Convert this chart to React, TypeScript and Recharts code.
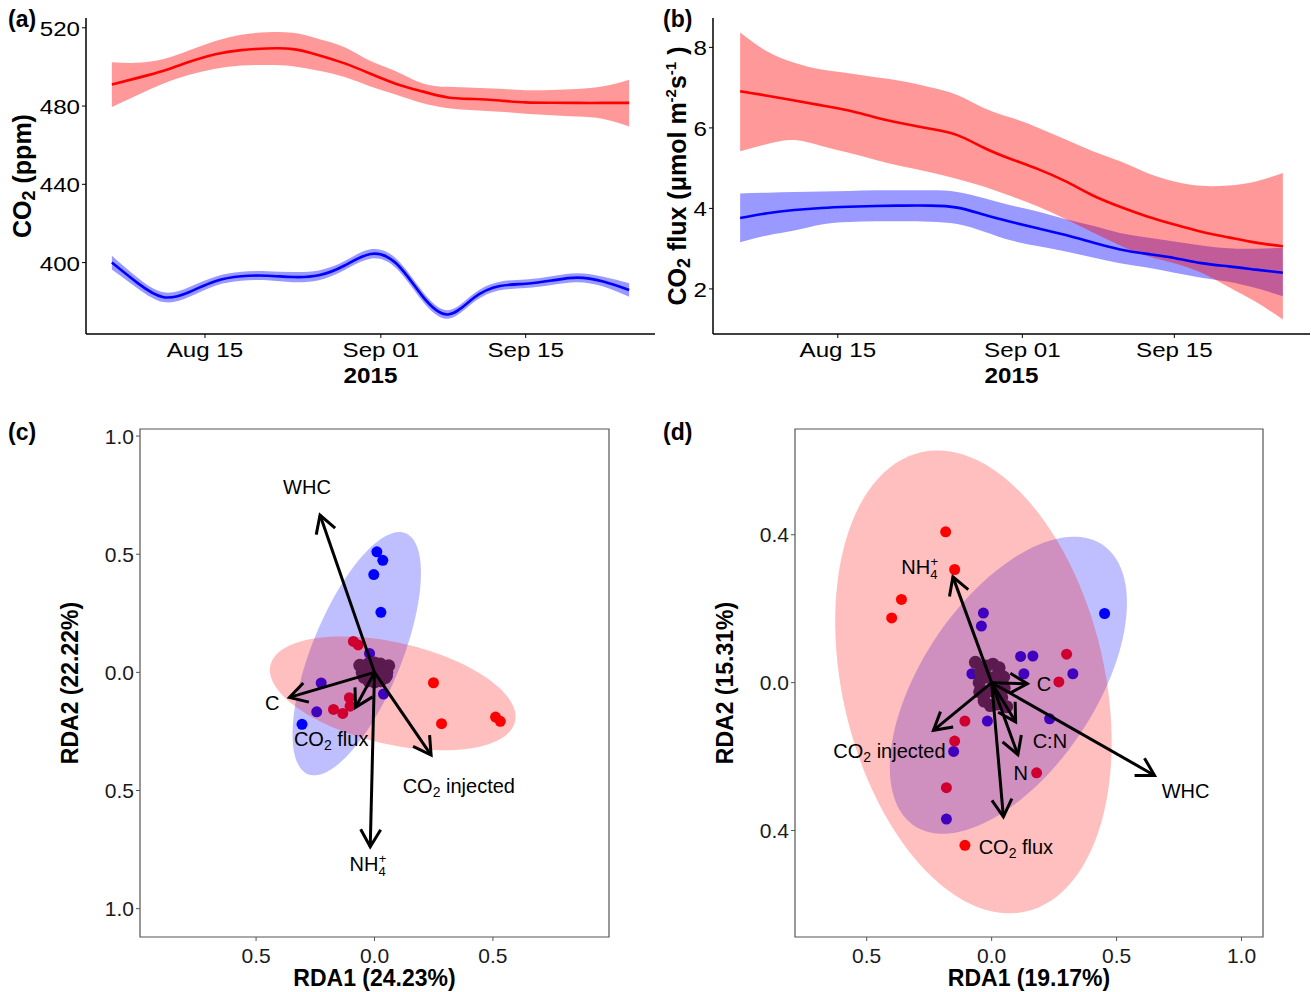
import React from 'react';
import {
  ComposedChart,
  ScatterChart,
  Area,
  Line,
  Scatter,
  XAxis,
  YAxis,
  Label,
  ReferenceArea,
} from 'recharts';

const FONT = '"Liberation Sans", Arial, Helvetica, sans-serif';

// ---- panels (a) and (b): smoothed time series, days counted from Aug 1 2015
const days = [5, 7.5, 10, 12.5, 15, 17.5, 20, 22.5, 25, 27.5, 30, 32.5, 35, 37.5, 40, 42.5, 45, 47.5, 50, 52.5, 55];
const dateTicks = [14, 31, 45];
const dateTickLabels = ['Aug 15', 'Sep 01', 'Sep 15'];

const co2RedMean = [491, 494.4, 498, 502.6, 506.5, 508.6, 509.4, 509.1, 506, 501.8, 496.5, 491.3, 487.5, 484.4, 483.6, 482.8, 481.9, 481.7, 481.6, 481.6, 481.6];
const co2RedLow = [479.5, 485.6, 491.5, 496, 499.1, 500.7, 501, 500.4, 498, 494.8, 490, 485.8, 481.5, 478.9, 477.9, 477.1, 476.1, 475.3, 474.6, 473.4, 469.6];
const co2RedHigh = [502.4, 502.1, 504, 508.5, 513.2, 516.5, 517.7, 517.4, 514.3, 510, 503, 497.7, 491.7, 489.8, 489.4, 488.8, 488.1, 488.2, 488.7, 490.1, 493.5];
const co2BlueMean = [400, 389.5, 382.3, 385, 390.5, 393, 393.3, 392.6, 393.5, 398.5, 404.4, 399.5, 383, 373.5, 382, 388, 389.2, 390.8, 392.3, 390.3, 386];
const co2BlueLow = [396.5, 386.8, 379.8, 382.5, 388.2, 390.7, 391, 390, 391, 396.2, 402, 397, 380.5, 371.3, 379.8, 385.8, 387, 388.6, 390, 387.8, 382.5];
const co2BlueHigh = [403.5, 392.2, 384.8, 387.5, 392.8, 395.3, 395.6, 395.2, 396, 400.8, 406.8, 402, 385.5, 375.7, 384.2, 390.2, 391.4, 393, 394.6, 392.8, 389.5];
const co2Ticks = [400, 440, 480, 520];

const fluxRedMean = [6.91, 6.8, 6.68, 6.56, 6.43, 6.26, 6.11, 5.98, 5.82, 5.5, 5.22, 4.97, 4.67, 4.32, 4.04, 3.8, 3.6, 3.42, 3.28, 3.15, 3.06];
const fluxRedLow = [5.42, 5.6, 5.7, 5.55, 5.38, 5.2, 5.04, 4.9, 4.73, 4.54, 4.3, 4.04, 3.73, 3.4, 3.08, 2.82, 2.64, 2.4, 2.05, 1.68, 1.24];
const fluxRedHigh = [8.37, 7.9, 7.62, 7.45, 7.36, 7.26, 7.16, 7.01, 6.82, 6.49, 6.25, 6.0, 5.71, 5.42, 5.17, 4.88, 4.67, 4.56, 4.57, 4.67, 4.88];
const fluxBlueMean = [3.76, 3.88, 3.96, 4.01, 4.04, 4.06, 4.07, 4.07, 4.02, 3.84, 3.66, 3.5, 3.34, 3.15, 2.98, 2.87, 2.77, 2.64, 2.56, 2.48, 2.4];
const fluxBlueLow = [3.16, 3.33, 3.45, 3.6, 3.66, 3.68, 3.68, 3.67, 3.61, 3.42, 3.2, 3.06, 2.93, 2.78, 2.64, 2.53, 2.4, 2.28, 2.18, 2.02, 1.82];
const fluxBlueHigh = [4.37, 4.39, 4.41, 4.42, 4.43, 4.45, 4.45, 4.45, 4.41, 4.25, 4.07, 3.92, 3.73, 3.57, 3.39, 3.28, 3.18, 3.08, 3.01, 3.0, 3.02];
const fluxTicks = [2, 4, 6, 8];

// ---- panels (c) and (d): RDA ordinations
const rdaCBlue = [
  { x: 0.01, y: 0.51 }, { x: 0.035, y: 0.474 }, { x: -0.003, y: 0.414 }, { x: 0.027, y: 0.254 },
  { x: -0.306, y: -0.22 }, { x: -0.021, y: 0.08 }, { x: -0.225, y: -0.045 }, { x: -0.244, y: -0.167 },
  { x: 0.038, y: -0.092 }, { x: 0.054, y: -0.016 },
];
const rdaCRed = [
  { x: -0.089, y: 0.131 }, { x: -0.069, y: 0.116 }, { x: -0.106, y: -0.107 }, { x: -0.103, y: -0.143 },
  { x: -0.134, y: -0.174 }, { x: -0.173, y: -0.157 }, { x: 0.249, y: -0.044 }, { x: 0.283, y: -0.217 },
  { x: 0.511, y: -0.189 }, { x: 0.531, y: -0.207 },
];
const rdaCCluster = [
  { x: -0.052, y: 0 }, { x: -0.045, y: 0.022 }, { x: -0.025, y: 0.036 }, { x: 0, y: 0.04 },
  { x: 0.025, y: 0.035 }, { x: 0.045, y: 0.02 }, { x: 0.052, y: 0 }, { x: 0.045, y: -0.022 },
  { x: 0.025, y: -0.036 }, { x: 0, y: -0.04 }, { x: -0.025, y: -0.035 }, { x: -0.045, y: -0.02 },
  { x: -0.02, y: 0.01 }, { x: 0.02, y: 0.01 }, { x: 0, y: -0.01 }, { x: -0.01, y: 0.02 },
  { x: 0.015, y: -0.02 }, { x: -0.062, y: 0.03 }, { x: 0.06, y: 0.028 },
];
const rdaCVectors = [
  { x: -0.23, y: 0.666 }, { x: -0.359, y: -0.106 }, { x: -0.08, y: -0.148 },
  { x: 0.239, y: -0.35 }, { x: -0.018, y: -0.738 },
];
const rdaCVectorLabels = [
  { x: -0.285, y: 0.786, label: 'WHC' }, { x: -0.432, y: -0.128, label: 'C' },
  { x: -0.183, y: -0.284, label: 'CO2 flux' }, { x: 0.356, y: -0.48, label: 'CO2 injected' },
  { x: -0.028, y: -0.809, label: 'NH4+' },
];
// ellipse: centre x, centre y, semi-major, semi-minor, angle (deg)
const rdaCBlueEllipse = [-0.075, 0.079, 0.55, 0.19, 68];
const rdaCRedEllipse = [0.077, -0.089, 0.53, 0.215, -13];
const rdaCXTicks = [-0.5, 0, 0.5];
const rdaCYTicks = [-1, -0.5, 0, 0.5, 1];

const rdaDBlue = [
  { x: 0.452, y: 0.187 }, { x: -0.033, y: 0.188 }, { x: -0.041, y: 0.153 }, { x: 0.116, y: 0.071 },
  { x: 0.165, y: 0.072 }, { x: 0.129, y: 0.024 }, { x: 0.325, y: 0.024 }, { x: -0.079, y: 0.024 },
  { x: -0.017, y: -0.104 }, { x: 0.232, y: -0.098 }, { x: -0.152, y: -0.186 }, { x: -0.181, y: -0.369 },
];
const rdaDRed = [
  { x: -0.184, y: 0.408 }, { x: -0.148, y: 0.306 }, { x: -0.361, y: 0.225 }, { x: -0.4, y: 0.175 },
  { x: -0.107, y: -0.44 }, { x: 0.3, y: 0.077 }, { x: 0.269, y: 0.002 }, { x: -0.107, y: -0.104 },
  { x: -0.148, y: -0.158 }, { x: -0.181, y: -0.284 }, { x: 0.18, y: -0.244 },
];
const rdaDCluster = [
  { x: -0.05, y: 0 }, { x: -0.045, y: 0.028 }, { x: -0.022, y: 0.045 }, { x: 0.005, y: 0.05 },
  { x: 0.03, y: 0.04 }, { x: 0.048, y: 0.015 }, { x: 0.05, y: -0.015 }, { x: 0.04, y: -0.04 },
  { x: 0.02, y: -0.058 }, { x: -0.005, y: -0.062 }, { x: -0.03, y: -0.05 }, { x: -0.048, y: -0.025 },
  { x: -0.015, y: 0.015 }, { x: 0.015, y: 0.015 }, { x: 0, y: -0.02 }, { x: -0.02, y: -0.025 },
  { x: 0.02, y: -0.03 }, { x: -0.065, y: 0.055 }, { x: 0.06, y: -0.065 },
];
const rdaDVectors = [
  { x: -0.155, y: 0.286 }, { x: 0.143, y: -0.003 }, { x: -0.233, y: -0.129 }, { x: 0.096, y: -0.106 },
  { x: 0.105, y: -0.195 }, { x: 0.047, y: -0.363 }, { x: 0.652, y: -0.251 },
];
const rdaDVectorLabels = [
  { x: -0.288, y: 0.313, label: 'NH4+' }, { x: 0.209, y: -0.005, label: 'C' },
  { x: -0.409, y: -0.186, label: 'CO2 injected' }, { x: 0.233, y: -0.158, label: 'C:N' },
  { x: 0.116, y: -0.244, label: 'N' }, { x: 0.097, y: -0.445, label: 'CO2 flux' },
  { x: 0.776, y: -0.293, label: 'WHC' },
];
const rdaDRedEllipse = [-0.073, 0.002, 0.67, 0.499, -57.7];
const rdaDBlueEllipse = [0.067, -0.007, 0.551, 0.288, 36.6];
const rdaDXTicks = [-0.5, 0, 0.5, 1];
const rdaDYTicks = [-0.4, 0, 0.4];

const tableA = days.map((d, i) => ({
  day: d,
  redMean: co2RedMean[i],
  redBand: [co2RedLow[i], co2RedHigh[i]],
  blueMean: co2BlueMean[i],
  blueBand: [co2BlueLow[i], co2BlueHigh[i]],
}));
const tableB = days.map((d, i) => ({
  day: d,
  redMean: fluxRedMean[i],
  redBand: [fluxRedLow[i], fluxRedHigh[i]],
  blueMean: fluxBlueMean[i],
  blueBand: [fluxBlueLow[i], fluxBlueHigh[i]],
}));

function ellipseOutline([cx, cy, a, b, deg]: number[]) {
  const th = (deg * Math.PI) / 180;
  const pts = [];
  for (let i = 0; i <= 120; i++) {
    const t = (i / 120) * 2 * Math.PI;
    pts.push({
      x: cx + a * Math.cos(th) * Math.cos(t) - b * Math.sin(th) * Math.sin(t),
      y: cy + a * Math.sin(th) * Math.cos(t) + b * Math.cos(th) * Math.sin(t),
    });
  }
  return pts;
}

const TimeTick = (props: any) => {
  const { x, y, payload } = props;
  const i = dateTicks.indexOf(payload.value);
  return (
    <g transform={`translate(${x},${y})`}>
      <text transform="scale(1.15,1)" textAnchor="middle" dy={17} fontSize={21} fontFamily={FONT} fill="#000">
        {dateTickLabels[i]}
      </text>
    </g>
  );
};

const ValueTick = (props: any) => {
  const { x, y, payload } = props;
  return (
    <g transform={`translate(${x},${y})`}>
      <text transform="scale(1.15,1)" textAnchor="end" dy={8} fontSize={21} fontFamily={FONT} fill="#000">
        {payload.value}
      </text>
    </g>
  );
};

const YearLabel = (props: any) => {
  const vb = props.viewBox;
  if (!vb) return null;
  return (
    <g transform={`translate(${vb.x + vb.width / 2},${vb.y + 49})`}>
      <text transform="scale(1.1,1)" textAnchor="middle" fontSize={22} fontWeight="bold" fontFamily={FONT} fill="#000">
        2015
      </text>
    </g>
  );
};

const Co2Title = (props: any) => {
  const vb = props.viewBox;
  if (!vb) return null;
  const cx = vb.x + 23;
  const cy = vb.y + vb.height / 2;
  return (
    <text x={cx} y={cy} dy={8} transform={`rotate(-90, ${cx}, ${cy})`} textAnchor="middle" fontSize={25} fontWeight="bold" fontFamily={FONT} fill="#000">
      CO<tspan fontSize={18} dy={4}>2</tspan>
      <tspan dy={-4}>{'  (ppm)'}</tspan>
    </text>
  );
};

const FluxTitle = (props: any) => {
  const vb = props.viewBox;
  if (!vb) return null;
  const cx = vb.x + 23;
  const cy = vb.y + vb.height / 2;
  return (
    <text x={cx} y={cy} dy={8} transform={`rotate(-90, ${cx}, ${cy})`} textAnchor="middle" fontSize={25} fontWeight="bold" fontFamily={FONT} fill="#000">
      CO<tspan fontSize={18} dy={4}>2</tspan>
      <tspan dy={-4}>{'  flux (μmol m'}</tspan>
      <tspan fontSize={15} dy={-10}>-2</tspan>
      <tspan dy={10}>s</tspan>
      <tspan fontSize={15} dy={-10}>-1</tspan>
      <tspan dy={10}>{' )'}</tspan>
    </text>
  );
};

function SeriesChart({ data, domain, ticks, Title, width, yWidth, plotWidth }: any) {
  return (
    <ComposedChart width={width} height={400} data={data} margin={{ top: 18, right: width - yWidth - plotWidth, bottom: 0, left: 0 }}>
      <XAxis
        type="number"
        dataKey="day"
        domain={[2.5, 57.5]}
        ticks={dateTicks}
        interval={0}
        allowDataOverflow
        height={66}
        tickSize={4}
        axisLine={{ stroke: '#000', strokeWidth: 1.5 }}
        tickLine={{ stroke: '#000' }}
        tick={<TimeTick />}
      >
        <Label content={YearLabel} />
      </XAxis>
      <YAxis
        type="number"
        domain={domain}
        ticks={ticks}
        interval={0}
        allowDataOverflow
        width={yWidth}
        tickSize={4}
        axisLine={{ stroke: '#000', strokeWidth: 1.5 }}
        tickLine={{ stroke: '#000' }}
        tick={<ValueTick />}
      >
        <Label content={Title} />
      </YAxis>
      <Area type="natural" dataKey="blueBand" stroke="none" fill="#0000FF" fillOpacity={0.4} isAnimationActive={false} />
      <Line type="natural" dataKey="blueMean" stroke="#0000FF" strokeWidth={2.6} dot={false} isAnimationActive={false} />
      <Area type="natural" dataKey="redBand" stroke="none" fill="#FF0000" fillOpacity={0.4} isAnimationActive={false} />
      <Line type="natural" dataKey="redMean" stroke="#FF0000" strokeWidth={2.6} dot={false} isAnimationActive={false} />
    </ComposedChart>
  );
}

const rdaTick = (anchor: 'x' | 'y') => (props: any) => {
  const { x, y, payload } = props;
  const text = Math.abs(payload.value).toFixed(1);
  return (
    <text
      x={x}
      y={y}
      dy={anchor === 'x' ? 20 : 7.5}
      textAnchor={anchor === 'x' ? 'middle' : 'end'}
      fontSize={21}
      fontFamily={FONT}
      fill="#1a1a1a"
    >
      {text}
    </text>
  );
};

const rdaXTitle = (text: string) => (props: any) => {
  const vb = props.viewBox;
  if (!vb) return null;
  return (
    <text x={vb.x + vb.width / 2} y={vb.y + 49} textAnchor="middle" fontSize={23} fontWeight="bold" fontFamily={FONT} fill="#000">
      {text}
    </text>
  );
};

const rdaYTitle = (text: string) => (props: any) => {
  const vb = props.viewBox;
  if (!vb) return null;
  const cx = vb.x + 70;
  const cy = vb.y + vb.height / 2;
  return (
    <text x={cx} y={cy} dy={8} transform={`rotate(-90, ${cx}, ${cy})`} textAnchor="middle" fontSize={23} fontWeight="bold" fontFamily={FONT} fill="#000">
      {text}
    </text>
  );
};

const dot = (color: string, r: number) => (p: any) => <circle cx={p.cx} cy={p.cy} r={r} fill={color} />;
const nothing = () => <g />;
const ellipseFill = (color: string) => (p: any) => {
  const pts = p.points || [];
  if (!pts.length) return <g />;
  const d = 'M' + pts.map((q: any) => `${q.x},${q.y}`).join('L') + 'Z';
  return <path d={d} fill={color} fillOpacity={0.25} stroke="none" />;
};

const VectorLabel = (p: any) => {
  const label = p.payload.label;
  const base = { x: p.cx, y: p.cy + 7, textAnchor: 'middle' as const, fontSize: 20, fontFamily: FONT, fill: '#000' };
  if (label.startsWith('CO2')) {
    return (
      <text {...base}>
        CO<tspan fontSize={14} dy={4}>2</tspan>
        <tspan dy={-4}>{' ' + label.slice(4)}</tspan>
      </text>
    );
  }
  if (label === 'NH4+') {
    return (
      <text {...base}>
        NH<tspan fontSize={13} dy={5}>4</tspan>
        <tspan fontSize={13} dx={-7} dy={-13}>+</tspan>
      </text>
    );
  }
  return <text {...base}>{label}</text>;
};

// arrow drawn from the joint line between origin and tip
const arrowLine = (p: any) => {
  const pts = p.points || [];
  if (pts.length < 2) return <g />;
  const x1 = pts[0].x;
  const y1 = pts[0].y;
  const x2 = pts[1].x;
  const y2 = pts[1].y;
  const ang = Math.atan2(y2 - y1, x2 - x1);
  const L = 20;
  const h = Math.PI / 6;
  const ax = x2 - L * Math.cos(ang - h);
  const ay = y2 - L * Math.sin(ang - h);
  const bx = x2 - L * Math.cos(ang + h);
  const by = y2 - L * Math.sin(ang + h);
  return (
    <g>
      <line x1={x1} y1={y1} x2={x2} y2={y2} stroke="#000" strokeWidth={3} />
      <polyline points={`${ax},${ay} ${x2},${y2} ${bx},${by}`} fill="none" stroke="#000" strokeWidth={3} />
    </g>
  );
};

function RdaChart({ width, rightMargin, xDomain, yDomain, xTicks, yTicks, blue, red, cluster, blueEllipse, redEllipse, vectors, labels, xTitle, yTitle }: any) {
  return (
    <ScatterChart width={width} height={582} margin={{ top: 19, right: rightMargin, bottom: 0, left: 0 }}>
      <XAxis
        type="number"
        dataKey="x"
        domain={xDomain}
        ticks={xTicks}
        interval={0}
        allowDataOverflow
        height={55}
        tickSize={4}
        axisLine={false}
        tickLine={{ stroke: '#555' }}
        tick={rdaTick('x')}
      >
        <Label content={rdaXTitle(xTitle)} />
      </XAxis>
      <YAxis
        type="number"
        dataKey="y"
        domain={yDomain}
        ticks={yTicks}
        interval={0}
        allowDataOverflow
        width={140}
        tickSize={4}
        axisLine={false}
        tickLine={{ stroke: '#555' }}
        tick={rdaTick('y')}
      >
        <Label content={rdaYTitle(yTitle)} />
      </YAxis>
      <ReferenceArea x1={xDomain[0]} x2={xDomain[1]} y1={yDomain[0]} y2={yDomain[1]} fill="none" stroke="#555" strokeWidth={1.2} ifOverflow="visible" />
      <Scatter data={blue} shape={dot('#0000FF', 5.5)} isAnimationActive={false} />
      <Scatter data={red} shape={dot('#FF0000', 5.5)} isAnimationActive={false} />
      <Scatter data={ellipseOutline(blueEllipse)} shape={nothing} line={ellipseFill('#0000FF')} lineType="joint" isAnimationActive={false} />
      <Scatter data={ellipseOutline(redEllipse)} shape={nothing} line={ellipseFill('#FF0000')} lineType="joint" isAnimationActive={false} />
      <Scatter data={cluster} shape={dot('#5b1b4f', 6.5)} isAnimationActive={false} />
      <Scatter data={labels} shape={VectorLabel} isAnimationActive={false} />
      {vectors.map((v: any, i: number) => (
        <Scatter
          key={i}
          data={[{ x: 0, y: 0 }, { x: v.x, y: v.y }]}
          shape={nothing}
          line={arrowLine}
          lineType="joint"
          isAnimationActive={false}
        />
      ))}
    </ScatterChart>
  );
}

const panelLabel = (text: string, left: number, top: number) => (
  <div
    style={{
      position: 'absolute',
      left,
      top,
      fontFamily: FONT,
      fontWeight: 'bold',
      fontSize: 23,
      lineHeight: '23px',
      color: '#000',
    }}
  >
    {text}
  </div>
);

export default function App() {
  return (
    <div style={{ position: 'absolute', left: 0, top: 0, width: 1311, height: 992, background: '#fff', fontFamily: FONT }}>
      <div style={{ position: 'absolute', left: 0, top: 0 }}>
        <SeriesChart data={tableA} domain={[363.5, 525]} ticks={co2Ticks} Title={Co2Title} width={660} yWidth={86} plotWidth={569} />
      </div>
      <div style={{ position: 'absolute', left: 655, top: 0 }}>
        <SeriesChart data={tableB} domain={[0.88, 8.73]} ticks={fluxTicks} Title={FluxTitle} width={656} yWidth={58} plotWidth={597} />
      </div>
      <div style={{ position: 'absolute', left: 0, top: 410 }}>
        <RdaChart
          width={640}
          rightMargin={31}
          xDomain={[-0.99, 0.99]}
          yDomain={[-1.12, 1.03]}
          xTicks={rdaCXTicks}
          yTicks={rdaCYTicks}
          blue={rdaCBlue}
          red={rdaCRed}
          cluster={rdaCCluster}
          blueEllipse={rdaCBlueEllipse}
          redEllipse={rdaCRedEllipse}
          vectors={rdaCVectors}
          labels={rdaCVectorLabels}
          xTitle="RDA1 (24.23%)"
          yTitle="RDA2 (22.22%)"
        />
      </div>
      <div style={{ position: 'absolute', left: 655, top: 410 }}>
        <RdaChart
          width={656}
          rightMargin={48}
          xDomain={[-0.787, 1.086]}
          yDomain={[-0.688, 0.686]}
          xTicks={rdaDXTicks}
          yTicks={rdaDYTicks}
          blue={rdaDBlue}
          red={rdaDRed}
          cluster={rdaDCluster}
          blueEllipse={rdaDBlueEllipse}
          redEllipse={rdaDRedEllipse}
          vectors={rdaDVectors}
          labels={rdaDVectorLabels}
          xTitle="RDA1 (19.17%)"
          yTitle="RDA2 (15.31%)"
        />
      </div>
      {panelLabel('(a)', 8, 8)}
      {panelLabel('(b)', 663, 8)}
      {panelLabel('(c)', 8, 421)}
      {panelLabel('(d)', 663, 421)}
    </div>
  );
}
